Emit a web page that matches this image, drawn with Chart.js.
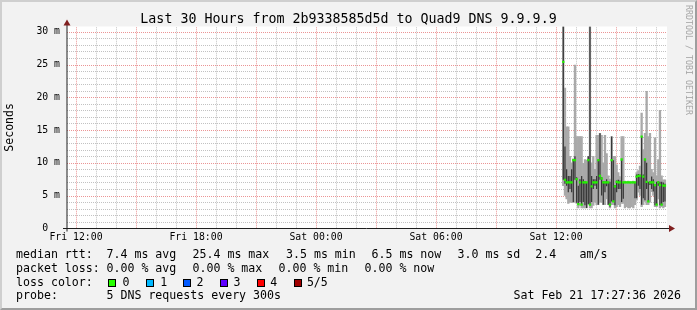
<!DOCTYPE html>
<html>
<head>
<meta charset="utf-8">
<script src="https://cdn.jsdelivr.net/npm/chart.js@4.4.1/dist/chart.umd.min.js"></script>
<style>
html,body{margin:0;padding:0;}
body{width:697px;height:310px;overflow:hidden;background:#f2f2f2;font-family:"DejaVu Sans Mono",monospace;position:relative;}
#frame{position:absolute;left:0;top:0;width:693px;height:306px;border-top:2px solid #cfcfcf;border-left:2px solid #cfcfcf;border-right:2px solid #9e9e9e;border-bottom:2px solid #9e9e9e;pointer-events:none;}
canvas{position:absolute;left:0;top:0;}
.t{position:absolute;white-space:pre;font-size:11.6px;line-height:13.5px;color:#000;}
#title{position:absolute;left:0;top:11.3px;width:697px;text-align:center;white-space:pre;font-size:13.3px;line-height:15.5px;color:#000;}
#wm{position:absolute;left:692.5px;top:5px;transform-origin:0 0;transform:rotate(90deg);white-space:pre;font-size:8.3px;line-height:9.7px;color:#a6a6a6;}
.box{position:absolute;width:6px;height:6px;border:1px solid #000;}
</style>
</head>
<body>
<canvas id="c" width="697" height="310"></canvas>
<div id="title">Last 30 Hours from 2b9338585d5d to Quad9 DNS 9.9.9.9</div>
<div id="wm">RRDTOOL / TOBI OETIKER</div>
<div id="legend"></div>
<div id="frame"></div>
<script>
// ---- axis range / ticks (hours counted from Fri 00:00) ----
const xMinHour = 11.55;   // Fri 11:33
const xMaxHour = 41.55;   // Sat 17:33
const xTickHours = [12, 18, 24, 30, 36];
const xTickLabels = ["Fri 12:00", "Fri 18:00", "Sat 00:00", "Sat 06:00", "Sat 12:00"];
const xGridHours = [12,13,14,15,16,17,18,19,20,21,22,23,24,25,26,27,28,29,30,31,32,33,34,35,36,37,38,39,40,41];
const yMax = 30.8;
const yGridValues = [1,2,3,4,5,6,7,8,9,10,11,12,13,14,15,16,17,18,19,20,21,22,23,24,25,26,27,28,29,30];
const yTickValues = [0, 5, 10, 15, 20, 25, 30];
const yTickLabels = ["0  ", "5 m", "10 m", "15 m", "20 m", "25 m", "30 m"];

// ---- samples: 5-minute steps starting at Sat 12:21 ----
const firstSampleHour = 36.365;
const sampleStepHours = 5 / 60;

// RTT in ms per sample (min / inner-low / median / inner-high / max)
const minRtt = [6.5,5.0,4.5,3.8,4.0,3.9,3.9,4.0,3.8,3.1, 3.5,3.1,3.1,3.1,3.1,3.6,3.1,3.1,3.5,4.0, 3.6,3.6,4.0,4.0,3.6,3.6,4.5,3.6,3.1,3.6, 3.6,3.1,3.3,3.6,3.3,3.8,3.8,3.1,3.3,3.1, 3.1,3.3,3.1,3.6,4.3,5.5,5.0,3.3,3.6,4.1, 3.6,3.6,4.0,5.6,5.0,3.3,3.3,4.5,3.1,3.3, 3.1,3.3];
const lowRtt = [7.4,6.8,6.5,5.5,6.0,5.5,4.0,7.4,3.9,3.7, 4.0,3.6,4.0,3.5,3.1,3.7,3.6,4.0,6.0,6.5, 6.0,3.6,7.4,5.0,3.6,5.5,6.4,3.6,3.3,4.1, 4.1,3.5,5.5,6.0,6.0,4.0,4.5,7.0,7.0,7.0, 7.0,7.0,7.0,4.6,4.6,6.5,6.0,3.6,4.6,4.3, 6.0,4.1,6.6,6.0,5.6,3.5,3.6,6.5,3.5,3.6, 4.0,4.1];
const medianRtt = [25.4,7.4,7.0,7.0,7.0,7.0,10.4,10.4,7.5,3.7, 7.0,3.6,7.0,7.0,7.0,10.4,3.6,6.4,7.0,7.0, 7.0,10.4,8.0,7.6,7.0,7.0,7.0,7.0,3.6,10.4, 4.1,6.4,7.1,7.0,7.0,10.5,7.0,7.0,7.0,7.0, 7.0,7.0,7.0,7.0,7.9,8.0,8.0,14.0,7.9,10.5, 7.1,4.1,7.0,7.0,7.0,6.6,3.6,7.0,6.6,3.6, 6.5,6.5];
const highRtt = [30.8,12.5,9.0,8.0,8.0,9.0,10.4,11.0,7.8,6.5, 7.5,8.0,7.5,7.2,7.0,11.0,30.8,8.0,7.5,7.5, 8.0,10.4,14.5,7.8,7.2,7.2,7.5,7.0,7.1,14.0, 10.4,6.6,7.3,7.4,7.3,10.5,7.1,7.0,7.0,7.0, 7.0,7.0,7.0,7.0,8.2,8.3,8.2,14.0,8.2,10.5, 10.0,7.1,7.2,7.9,7.5,6.6,7.1,7.2,7.1,7.1, 7.0,6.8];
const maxRtt = [30.8,21.4,15.5,15.5,11.0,10.0,10.6,24.9,14.0,14.0, 14.0,14.0,9.9,10.5,10.4,11.0,30.8,10.0,11.0,9.0, 14.2,14.2,14.5,14.2,10.0,14.2,11.4,8.0,7.5,14.0, 11.0,11.0,9.7,8.5,7.9,14.0,14.0,7.2,7.1,7.2, 7.0,7.1,7.2,7.1,8.5,8.8,9.5,17.6,12.0,14.5, 20.9,14.0,14.5,9.0,8.5,13.8,8.0,10.5,18.0,8.0, 7.4,7.4];

// ---- legend text ----
const legendRows = [
  [["median rtt:",16],["7.4 ms avg",106.5],["25.4 ms max",192.5],["3.5 ms min",286],["6.5 ms now",371.5],["3.0 ms sd",457.5],["2.4",535.3],["am/s",579.5]],
  [["packet loss:",16],["0.00 % avg",106.5],["0.00 % max",192.5],["0.00 % min",278.5],["0.00 % now",364.5]],
  [["loss color:",16]],
  [["probe:",16],["5 DNS requests every 300s",106.5]]
];
const lossLabels = ["0","1","2","3","4","5/5"];
const lossColors = ["#26ff00","#00b8ff","#0059ff","#5e00ff","#ff0000","#a00000"];
const lossBoxX = [108,145.5,182.5,219.5,256.5,293.5];
const lossLabelX = [122.5,160.2,196.5,233.5,270.2,306.9];
const timestampText = "Sat Feb 21 17:27:36 2026";

const rowTop = [247.9, 261.7, 275.5, 289.3];
const leg = document.getElementById('legend');
legendRows.forEach((row, r) => {
  row.forEach(([txt, x]) => {
    const s = document.createElement('div'); s.className = 't';
    s.style.left = x + 'px'; s.style.top = rowTop[r] + 'px'; s.textContent = txt; leg.appendChild(s);
  });
});
lossLabels.forEach((lab, i) => {
  const b = document.createElement('div'); b.className = 'box';
  b.style.left = lossBoxX[i] + 'px'; b.style.top = (rowTop[2] + 3.2) + 'px'; b.style.background = lossColors[i];
  leg.appendChild(b);
  const s = document.createElement('div'); s.className = 't';
  s.style.left = lossLabelX[i] + 'px'; s.style.top = rowTop[2] + 'px'; s.textContent = lab; leg.appendChild(s);
});
const ts = document.createElement('div'); ts.className = 't';
ts.style.right = '16px'; ts.style.top = rowTop[3] + 'px'; ts.textContent = timestampText; leg.appendChild(ts);

// ---- build datasets ----
const hours = medianRtt.map((_, i) => firstSampleHour + i * sampleStepHours);
const outerData = hours.map((h, i) => ({x: h, y: [minRtt[i], maxRtt[i]]}));
const innerData = hours.map((h, i) => ({x: h, y: [lowRtt[i], highRtt[i]]}));
const medianData = hours.map((h, i) => ({x: h, y: medianRtt[i]}));

const minorGrid = 'rgba(143,143,143,0.55)';
const majorGrid = 'rgba(222,79,79,0.6)';
const FONT = "'DejaVu Sans Mono', monospace";

const framePlugin = {
  id: 'frame',
  beforeDraw(chart) {
    const {ctx, chartArea: a} = chart;
    ctx.save(); ctx.fillStyle = '#ffffff';
    ctx.fillRect(a.left, a.top, a.right - a.left, a.bottom - a.top);
    ctx.restore();
  },
  beforeDatasetsDraw(chart) {
    const {ctx, chartArea: a, scales: {x, y}} = chart;
    ctx.save();
    ctx.lineWidth = 1; ctx.setLineDash([1, 1]);
    xGridHours.forEach(h => {
      const px = Math.round(x.getPixelForValue(h)) + 0.5;
      ctx.strokeStyle = h % 3 === 0 ? majorGrid : minorGrid;
      ctx.beginPath(); ctx.moveTo(px, a.bottom); ctx.lineTo(px, a.top); ctx.stroke();
    });
    yGridValues.forEach(v => {
      const py = Math.round(y.getPixelForValue(v)) + 0.5;
      ctx.strokeStyle = v % 5 === 0 ? majorGrid : minorGrid;
      ctx.beginPath(); ctx.moveTo(a.left, py); ctx.lineTo(a.right, py); ctx.stroke();
    });
    ctx.restore();
  },
  afterDraw(chart) {
    const {ctx, chartArea: a} = chart;
    ctx.save();
    const yb = Math.floor(a.bottom) + 0.5;
    ctx.strokeStyle = '#1f1f1f'; ctx.lineWidth = 1;
    ctx.beginPath(); ctx.moveTo(a.left, yb + 3); ctx.lineTo(a.left, a.top - 2); ctx.stroke();
    ctx.beginPath(); ctx.moveTo(a.left - 4, yb); ctx.lineTo(a.right + 3, yb); ctx.stroke();
    ctx.fillStyle = '#801f1f';
    ctx.beginPath(); ctx.moveTo(a.right + 8, yb); ctx.lineTo(a.right + 2, yb - 3.5); ctx.lineTo(a.right + 2, yb + 3.5); ctx.closePath(); ctx.fill();
    ctx.beginPath(); ctx.moveTo(a.left, a.top - 7); ctx.lineTo(a.left - 3.5, a.top - 1); ctx.lineTo(a.left + 3.5, a.top - 1); ctx.closePath(); ctx.fill();
    ctx.restore();
  }
};

new Chart(document.getElementById('c'), {
  type: 'bar',
  data: {
    datasets: [
      {type: 'line', data: medianData, showLine: false, pointStyle: 'rect', pointRadius: 1.6, pointBorderWidth: 0,
       pointBackgroundColor: '#22ee00', order: 0},
      {type: 'bar', data: innerData, backgroundColor: '#383838', borderWidth: 0, grouped: false,
       barPercentage: 0.75, categoryPercentage: 1, order: 1},
      {type: 'bar', data: outerData, backgroundColor: '#a9a9a9', borderWidth: 0, grouped: false,
       barPercentage: 1, categoryPercentage: 1, order: 2}
    ]
  },
  options: {
    responsive: false,
    animation: false,
    events: [],
    layout: {padding: {left: 0, right: 30, top: 26.5, bottom: 61.7}},
    plugins: {legend: {display: false}, tooltip: {enabled: false}, title: {display: false}},
    scales: {
      x: {
        type: 'linear', min: xMinHour, max: xMaxHour, offset: false,
        afterBuildTicks: s => { s.ticks = xTickHours.map(v => ({value: v})); },
        afterFit: s => { s.height = 20; },
        ticks: {autoSkip: false, maxRotation: 0, minRotation: 0, padding: 3, color: '#000',
          font: {family: FONT, size: 9.8},
          callback: v => xTickLabels[xTickHours.indexOf(v)]},
        grid: {display: false, drawTicks: false},
        border: {display: false}
      },
      y: {
        min: 0, max: yMax,
        afterBuildTicks: s => { s.ticks = yTickValues.map(v => ({value: v})); },
        afterFit: s => { s.width = 67; },
        ticks: {autoSkip: false, padding: 7, color: '#000', font: {family: FONT, size: 9.8},
          callback: v => yTickLabels[yTickValues.indexOf(v)]},
        grid: {display: false, drawTicks: false},
        border: {display: false},
        title: {display: true, text: 'Seconds', color: '#000', font: {family: FONT, size: 11.5},
          padding: {top: 3, bottom: 0}}
      }
    }
  },
  plugins: [framePlugin]
});
</script>
</body>
</html>
